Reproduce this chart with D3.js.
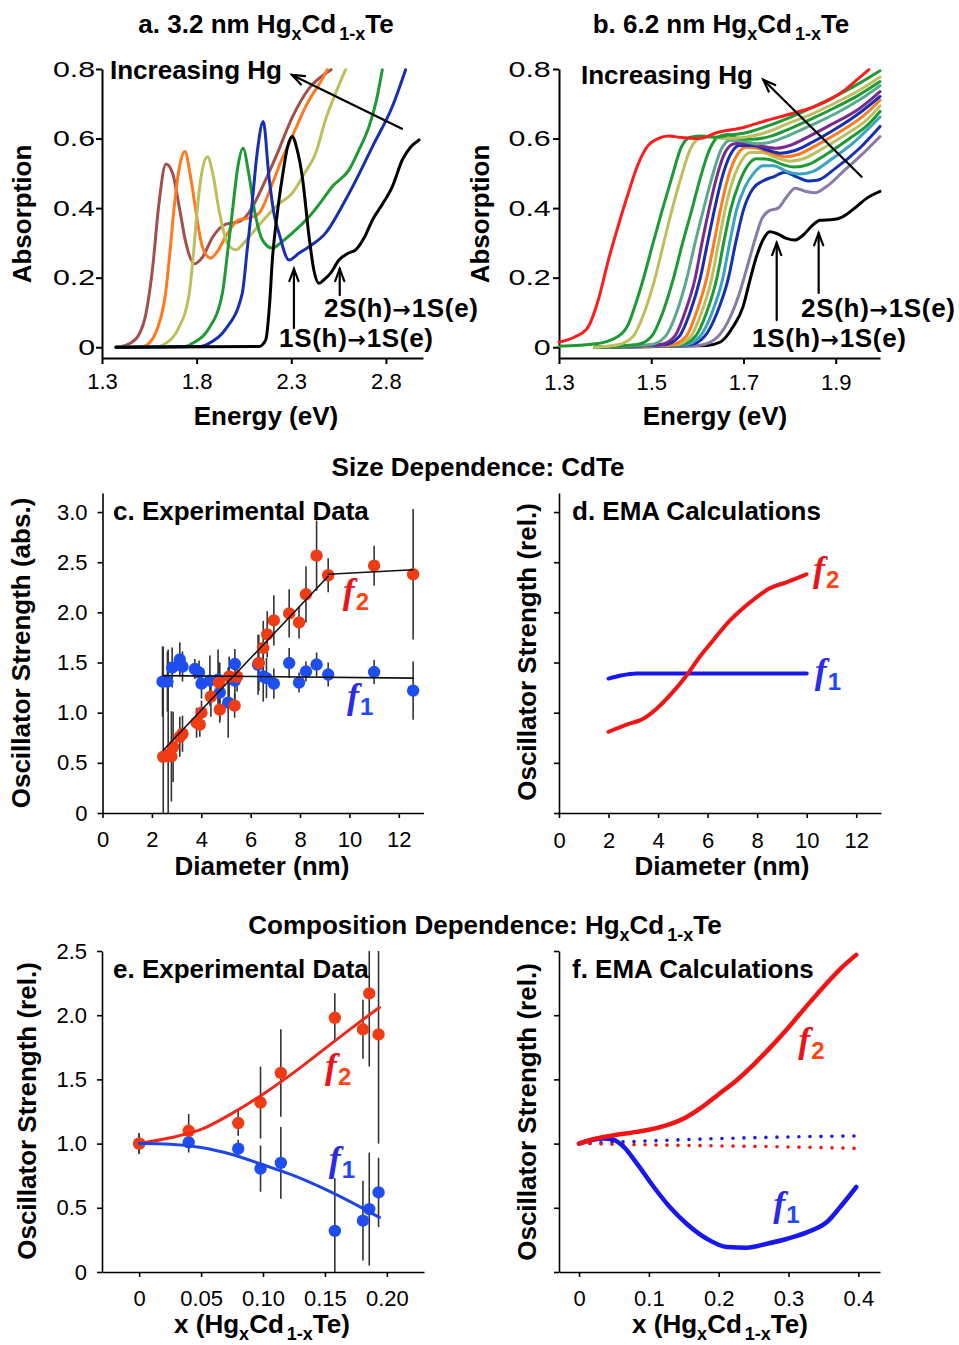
<!DOCTYPE html>
<html>
<head>
<meta charset="utf-8">
<script src="https://cdn.jsdelivr.net/npm/d3@7"></script>
<style>
  body { margin: 0; background: #fff; }
</style>
</head>
<body>
<svg id="fig" width="959" height="1345"></svg>
<script>
// ---------- a. 3.2 nm HgxCd1-xTe : absorption spectra [energy eV, absorbance], most Hg first
const a1 = [[1.374,0],[1.444,0.01],[1.497,0.038],[1.532,0.096],[1.568,0.231],[1.599,0.404],[1.638,0.527],[1.673,0.5],[1.708,0.404],[1.744,0.298],[1.788,0.24],[1.832,0.26],[1.885,0.317],[1.955,0.354],[2.025,0.361],[2.096,0.404],[2.131,0.442],[2.219,0.548],[2.307,0.663],[2.395,0.745],[2.483,0.788],[2.51,0.798]];
const a2 = [[1.374,0],[1.515,0.002],[1.548,0.011],[1.59,0.05],[1.636,0.155],[1.66,0.28],[1.68,0.395],[1.71,0.52],[1.738,0.563],[1.765,0.5],[1.795,0.395],[1.83,0.289],[1.874,0.256],[1.915,0.28],[1.953,0.318],[2.023,0.366],[2.08,0.372],[2.129,0.385],[2.2,0.47],[2.25,0.54],[2.305,0.606],[2.376,0.692],[2.481,0.788],[2.49,0.798]];
const a3 = [[1.374,0],[1.6,0.002],[1.636,0.011],[1.7,0.05],[1.761,0.155],[1.785,0.28],[1.803,0.395],[1.83,0.51],[1.857,0.548],[1.885,0.5],[1.918,0.395],[1.962,0.299],[2.006,0.28],[2.05,0.3],[2.094,0.328],[2.16,0.37],[2.23,0.41],[2.305,0.443],[2.37,0.5],[2.429,0.558],[2.481,0.654],[2.534,0.73],[2.587,0.798]];
const a4 = [[1.374,0],[1.74,0.002],[1.777,0.011],[1.86,0.05],[1.936,0.155],[1.965,0.28],[1.99,0.395],[2.018,0.52],[2.045,0.572],[2.075,0.5],[2.105,0.395],[2.148,0.308],[2.2,0.285],[2.25,0.303],[2.305,0.328],[2.394,0.375],[2.46,0.42],[2.517,0.462],[2.605,0.51],[2.66,0.57],[2.711,0.635],[2.75,0.71],[2.781,0.798]];
const a5 = [[1.374,0],[1.82,0.002],[1.865,0.011],[1.95,0.05],[2.041,0.155],[2.067,0.28],[2.09,0.395],[2.12,0.56],[2.152,0.649],[2.182,0.491],[2.21,0.38],[2.235,0.328],[2.288,0.251],[2.34,0.27],[2.394,0.289],[2.481,0.328],[2.587,0.424],[2.66,0.5],[2.729,0.577],[2.834,0.692],[2.904,0.798]];
const a6 = [[1.374,0],[2.13,0.002],[2.165,0.021],[2.185,0.12],[2.2,0.251],[2.225,0.38],[2.253,0.49],[2.28,0.575],[2.305,0.606],[2.33,0.57],[2.358,0.491],[2.394,0.318],[2.42,0.22],[2.446,0.184],[2.475,0.195],[2.508,0.213],[2.552,0.251],[2.6,0.27],[2.64,0.28],[2.69,0.32],[2.729,0.366],[2.78,0.41],[2.834,0.462],[2.887,0.539],[2.93,0.575],[2.975,0.596]];
const aSpectra = [a1, a2, a3, a4, a5, a6];
const aTicksX = [1.3, 1.8, 2.3, 2.8];
const absTicks = [0, 0.2, 0.4, 0.6, 0.8];

// ---------- b. 6.2 nm HgxCd1-xTe, most Hg first
const b1 = [[1.3,0.015],[1.335,0.03],[1.363,0.058],[1.385,0.135],[1.407,0.25],[1.428,0.347],[1.45,0.442],[1.472,0.528],[1.494,0.581],[1.515,0.6],[1.537,0.607],[1.566,0.603],[1.602,0.6],[1.645,0.618],[1.7,0.632],[1.75,0.652],[1.8,0.67],[1.85,0.69],[1.89,0.714],[1.92,0.74],[1.945,0.768],[1.972,0.798]];
const b2 = [[1.3,0.003],[1.38,0.01],[1.42,0.025],[1.45,0.065],[1.465,0.12],[1.483,0.197],[1.504,0.3],[1.524,0.395],[1.545,0.49],[1.565,0.575],[1.585,0.604],[1.61,0.607],[1.64,0.604],[1.67,0.61],[1.7,0.615],[1.75,0.635],[1.8,0.66],[1.85,0.69],[1.9,0.722],[1.95,0.758],[1.996,0.795]];
const b3 = [[1.377,0],[1.43,0.008],[1.46,0.03],[1.485,0.1],[1.508,0.197],[1.527,0.3],[1.545,0.395],[1.565,0.49],[1.585,0.57],[1.605,0.6],[1.63,0.605],[1.66,0.6],[1.7,0.603],[1.75,0.618],[1.8,0.645],[1.85,0.672],[1.9,0.703],[1.95,0.738],[1.996,0.777]];
const b4 = [[1.377,0],[1.47,0.008],[1.5,0.03],[1.525,0.1],[1.548,0.197],[1.568,0.3],[1.588,0.395],[1.607,0.49],[1.627,0.57],[1.645,0.605],[1.665,0.612],[1.69,0.6],[1.72,0.598],[1.76,0.607],[1.8,0.628],[1.85,0.658],[1.9,0.69],[1.95,0.725],[1.996,0.764]];
const b5 = [[1.377,0],[1.5,0.008],[1.53,0.03],[1.555,0.1],[1.577,0.197],[1.595,0.3],[1.613,0.395],[1.632,0.49],[1.652,0.57],[1.672,0.595],[1.7,0.592],[1.73,0.585],[1.76,0.59],[1.8,0.61],[1.85,0.64],[1.9,0.672],[1.95,0.71],[1.996,0.752]];
const b6 = [[1.377,0],[1.52,0.008],[1.55,0.03],[1.573,0.1],[1.595,0.197],[1.61,0.3],[1.625,0.395],[1.642,0.49],[1.66,0.56],[1.68,0.585],[1.71,0.587],[1.74,0.578],[1.77,0.572],[1.8,0.58],[1.84,0.605],[1.89,0.64],[1.95,0.685],[1.996,0.735]];
const b7 = [[1.377,0],[1.53,0.008],[1.56,0.03],[1.584,0.1],[1.606,0.197],[1.622,0.3],[1.637,0.395],[1.654,0.49],[1.672,0.555],[1.692,0.58],[1.72,0.58],[1.75,0.568],[1.78,0.558],[1.81,0.565],[1.85,0.59],[1.9,0.628],[1.95,0.672],[1.996,0.721]];
const b8 = [[1.377,0],[1.545,0.008],[1.575,0.03],[1.598,0.1],[1.62,0.197],[1.636,0.3],[1.65,0.395],[1.667,0.49],[1.685,0.55],[1.705,0.575],[1.73,0.572],[1.76,0.558],[1.79,0.548],[1.82,0.555],[1.86,0.582],[1.91,0.62],[1.96,0.665],[1.996,0.71]];
const b9 = [[1.377,0],[1.555,0.008],[1.585,0.03],[1.609,0.1],[1.631,0.197],[1.646,0.3],[1.66,0.395],[1.677,0.48],[1.695,0.535],[1.715,0.56],[1.74,0.56],[1.77,0.545],[1.8,0.535],[1.83,0.542],[1.87,0.57],[1.92,0.61],[1.97,0.657],[1.996,0.694]];
const b10 = [[1.377,0],[1.565,0.008],[1.595,0.03],[1.62,0.1],[1.642,0.197],[1.657,0.3],[1.672,0.395],[1.69,0.47],[1.708,0.52],[1.728,0.542],[1.755,0.54],[1.785,0.525],[1.81,0.518],[1.84,0.525],[1.88,0.555],[1.93,0.6],[1.97,0.64],[1.996,0.678]];
const b11 = [[1.377,0],[1.575,0.008],[1.605,0.03],[1.632,0.1],[1.655,0.197],[1.67,0.3],[1.685,0.395],[1.703,0.46],[1.722,0.5],[1.742,0.522],[1.765,0.522],[1.795,0.505],[1.82,0.498],[1.85,0.505],[1.89,0.54],[1.94,0.59],[1.996,0.662]];
const b12 = [[1.377,0],[1.585,0.008],[1.615,0.03],[1.643,0.1],[1.667,0.197],[1.683,0.3],[1.7,0.395],[1.72,0.455],[1.742,0.478],[1.765,0.49],[1.79,0.503],[1.815,0.49],[1.84,0.478],[1.86,0.48],[1.9,0.515],[1.95,0.57],[1.996,0.635]];
const b13 = [[1.377,0],[1.6,0.005],[1.635,0.02],[1.665,0.07],[1.69,0.15],[1.71,0.24],[1.725,0.31],[1.74,0.37],[1.755,0.392],[1.775,0.4],[1.795,0.435],[1.812,0.457],[1.835,0.448],[1.855,0.444],[1.88,0.462],[1.92,0.51],[1.96,0.558],[1.996,0.606]];
const b14 = [[1.377,0],[1.62,0.005],[1.65,0.015],[1.677,0.058],[1.699,0.116],[1.714,0.193],[1.728,0.26],[1.742,0.308],[1.757,0.332],[1.772,0.327],[1.793,0.313],[1.811,0.308],[1.829,0.322],[1.85,0.351],[1.866,0.365],[1.894,0.367],[1.915,0.375],[1.945,0.404],[1.967,0.428],[1.996,0.448]];
const bSpectra = [b1, b2, b3, b4, b5, b6, b7, b8, b9, b10, b11, b12, b13, b14];
const bTicksX = [1.3, 1.5, 1.7, 1.9];

// ---------- c. size dependence, experimental (diameter nm, oscillator strength)
const cDiamF2 = [2.46,2.66,2.79,2.86,3.13,3.24,3.81,3.94,4.01,4.39,4.72,4.75,5.13,5.35,5.45,6.33,6.51,6.67,6.94,7.56,7.96,8.24,8.67,9.14,11.0,12.58];
const cF2 = [0.56,0.58,0.565,0.66,0.76,0.79,0.90,0.88,1.0,1.16,1.30,1.03,1.36,1.07,1.36,1.495,1.645,1.78,1.92,1.99,1.90,2.18,2.565,2.37,2.465,2.38];
const cF2Err = [1.1,1.05,0.45,0.35,0.2,0.18,0.15,0.12,0.12,0.2,0.2,0.1,0.2,0.12,0.15,0.28,0.27,0.23,0.25,0.24,0.16,0.28,0.35,0.17,0.2,0.65];
const cDiamF1 = [2.43,2.63,2.82,3.13,3.24,3.74,3.91,4.01,4.35,4.68,4.75,5.09,5.36,5.36,6.30,6.51,6.64,6.94,7.56,7.96,8.24,8.67,9.14,11.0,12.58];
const cF1 = [1.31,1.31,1.45,1.53,1.46,1.435,1.40,1.29,1.32,1.33,1.20,1.10,1.485,1.32,1.48,1.36,1.345,1.29,1.495,1.30,1.41,1.48,1.38,1.405,1.22];
const cF1Err = [0.35,0.3,0.2,0.17,0.15,0.1,0.12,0.15,0.25,0.3,0.3,0.35,0.15,0.2,0.3,0.25,0.2,0.15,0.15,0.1,0.1,0.12,0.12,0.12,0.29];
const cFitF1 = [[2.46,1.369],[12.58,1.345]];
const cFitF2 = [[2.46,0.625],[9.14,2.36]];
const cFitF2Flat = [[9.14,2.38],[12.58,2.425]];
const diamTicks = [0, 2, 4, 6, 8, 10, 12];
const cTicksY = [0, 0.5, 1.0, 1.5, 2.0, 2.5, 3.0];

// ---------- d. size dependence, EMA
const dDiamF2 = [2.0,2.73,3.47,3.94,4.54,5.15,5.69,6.22,6.83,7.43,7.97,8.51,9.18,9.99];
const dF2 = [0.81,0.88,0.95,1.04,1.19,1.37,1.56,1.72,1.90,2.04,2.15,2.24,2.30,2.38];
const dDiamF1 = [2.0,2.5,3.13,5.0,8.0,10.0];
const dF1 = [1.34,1.37,1.39,1.39,1.39,1.39];

// ---------- e. composition dependence, experimental (x, relative strength)
const eX = [0, 0.04, 0.08, 0.098, 0.1144, 0.158, 0.1807, 0.1858, 0.1933];
const eF2 = [1.0, 1.10, 1.16, 1.32, 1.55, 1.98, 1.89, 2.17, 1.85];
const eF2Err = [0.08, 0.13, 0.1, 0.28, 0.34, 0.19, 0.23, 0.57, 0.85];
const eF1 = [1.0, 1.01, 0.96, 0.805, 0.85, 0.32, 0.40, 0.49, 0.62];
const eF1Err = [0.08, 0.08, 0.07, 0.18, 0.28, 0.41, 0.31, 0.44, 0.27];
const eFitX = [0, 0.025, 0.05, 0.075, 0.1, 0.125, 0.15, 0.175, 0.194];
const eFitF2 = [1.0, 1.045, 1.11, 1.235, 1.385, 1.555, 1.74, 1.925, 2.06];
const eFitF1 = [1.0, 0.995, 0.97, 0.915, 0.835, 0.75, 0.645, 0.525, 0.425];
const eTicksX = [0, 0.05, 0.10, 0.15, 0.20];
const relTicks = [0, 0.5, 1.0, 1.5, 2.0, 2.5];

// ---------- f. composition dependence, EMA
const fX2 = [0,0.025,0.05,0.075,0.1,0.125,0.15,0.175,0.2,0.225,0.25,0.275,0.3,0.325,0.35,0.375,0.397];
const fF2 = [1.0,1.04,1.065,1.085,1.108,1.142,1.195,1.28,1.385,1.49,1.615,1.755,1.905,2.065,2.22,2.365,2.47];
const fX1 = [0,0.016,0.035,0.049,0.064,0.083,0.107,0.13,0.154,0.183,0.212,0.24,0.269,0.298,0.327,0.355,0.374,0.397];
const fF1 = [1.0,1.026,1.039,1.031,0.974,0.844,0.662,0.506,0.376,0.259,0.194,0.189,0.22,0.259,0.311,0.389,0.506,0.662];
const fDotX = [0, 0.1, 0.2, 0.3, 0.4];
const fDotF1 = [1.0, 1.021, 1.039, 1.052, 1.06];
const fDotF2 = [1.0, 0.99, 0.982, 0.974, 0.962];
const fTicksX = [0, 0.1, 0.2, 0.3, 0.4];

// ---------- drawing
const SANS = '"Liberation Sans", Arial, Helvetica, sans-serif';
const SERIF = '"Liberation Serif", "Times New Roman", serif';
const ARROWFONT = '"DejaVu Sans", sans-serif';
const svg = d3.select("#fig");
svg.append("rect").attr("width", 959).attr("height", 1345).attr("fill", "#fff");

const zeroFmt = (f) => (d) => (d === 0 ? "0" : d3.format(f)(d));
const zip = (xs, ys) => xs.map((v, i) => [v, ys[i]]);

function axes(x, y, o) {
  const g = svg.append("g");
  const xa = g.append("g")
    .attr("transform", `translate(0,${y.range()[0]})`)
    .call(d3.axisBottom(x).tickValues(o.xTicks).tickFormat(o.xFmt)
      .tickSize(o.tick).tickSizeOuter(0).tickPadding(o.xPad));
  const ya = g.append("g")
    .attr("transform", `translate(${x.range()[0]},0)`)
    .call(d3.axisLeft(y).tickValues(o.yTicks).tickFormat(o.yFmt || (() => ""))
      .tickSize(o.tick).tickSizeOuter(0).tickPadding(o.yPad));
  [xa, ya].forEach((a) => {
    a.select(".domain").attr("stroke", "#000").attr("stroke-width", o.sw);
    a.selectAll(".tick line").attr("stroke", "#000").attr("stroke-width", o.sw);
    a.selectAll("text").attr("font-family", SANS).attr("font-size", 22).attr("fill", "#000");
  });
  return { xa, ya };
}

// bold text with optional subscript parts: [[string, isSub, dx], ...]
function rich(x, y, parts, anchor, size, subSize) {
  const t = svg.append("text").attr("x", x).attr("y", y)
    .attr("text-anchor", anchor || "start")
    .attr("font-family", SANS).attr("font-weight", "bold")
    .attr("font-size", size || 26).attr("fill", "#000");
  let down = false;
  parts.forEach(([s, sub, dx]) => {
    const sp = t.append("tspan").text(s);
    if (sub) {
      sp.attr("font-size", subSize || 18).attr("dy", down ? 0 : 7);
      down = true;
    } else if (down) {
      sp.attr("dy", -7);
      down = false;
    }
    if (dx) sp.attr("dx", dx);
  });
  return t;
}

// transition label "nS(h)→1S(e)"
function transition(x, y, from, to) {
  const t = svg.append("text").attr("x", x).attr("y", y)
    .attr("font-family", SANS).attr("font-weight", "bold").attr("font-size", 26)
    .attr("letter-spacing", 0.7);
  t.append("tspan").text(from);
  t.append("tspan").text("\u2192").attr("font-family", ARROWFONT).attr("font-size", 22);
  t.append("tspan").text(to);
}

function vlabel(x, y, s) {
  svg.append("text").attr("transform", `translate(${x},${y}) rotate(-90)`)
    .attr("text-anchor", "middle").attr("font-family", SANS)
    .attr("font-weight", "bold").attr("font-size", 26).text(s);
}

function arrow(x1, y1, x2, y2, w) {
  const g = svg.append("g").attr("stroke", "#000").attr("stroke-width", w || 2.2)
    .attr("fill", "none").attr("stroke-linecap", "round");
  g.append("line").attr("x1", x1).attr("y1", y1).attr("x2", x2).attr("y2", y2);
  const ang = Math.atan2(y1 - y2, x1 - x2), L = 13, h = 0.36;
  g.append("path").attr("d",
    `M${x2 + L * Math.cos(ang + h)},${y2 + L * Math.sin(ang + h)}L${x2},${y2}L${x2 + L * Math.cos(ang - h)},${y2 + L * Math.sin(ang - h)}`);
}

function fLabel(x, y, sub, fCol, sCol) {
  const t = svg.append("text").attr("x", x).attr("y", y);
  t.append("tspan").text("f").attr("font-family", SERIF).attr("font-style", "italic")
    .attr("font-weight", "bold").attr("font-size", 36).attr("fill", fCol);
  t.append("tspan").text(sub).attr("dx", 1).attr("dy", 7).attr("font-family", SANS)
    .attr("font-weight", "bold").attr("font-size", 24).attr("fill", sCol);
}

function errBars(x, y, xs, ys, es, lo, hi) {
  svg.append("g").attr("stroke", "#333").attr("stroke-width", 1.6)
    .selectAll("line").data(xs).join("line")
    .attr("x1", (d) => x(d)).attr("x2", (d) => x(d))
    .attr("y1", (d, i) => y(Math.min(hi, ys[i] + es[i])))
    .attr("y2", (d, i) => y(Math.max(lo, ys[i] - es[i])));
}

function dots(x, y, xs, ys, col) {
  svg.append("g").attr("fill", col).selectAll("circle").data(xs).join("circle")
    .attr("cx", (d) => x(d)).attr("cy", (d, i) => y(ys[i])).attr("r", 6.2);
}

function curve(x, y, pts, col, w, smooth, dash) {
  const line = d3.line().x((d) => x(d[0])).y((d) => y(d[1]))
    .curve(smooth ? d3.curveMonotoneX : d3.curveLinear);
  const p = svg.append("path").attr("d", line(pts)).attr("fill", "none")
    .attr("stroke", col).attr("stroke-width", w)
    .attr("stroke-linejoin", "round").attr("stroke-linecap", "round");
  if (dash) p.attr("stroke-dasharray", dash);
  return p;
}

const RED = "#f03c14", BLUE = "#1f4ef0";

// ---- panel a
{
  const x = d3.scaleLinear().domain([1.3, 2.996]).range([102, 423]);
  const y = d3.scaleLinear().domain([-0.031, 0.8]).range([358, 69]);
  const { ya } = axes(x, y, { xTicks: aTicksX, xFmt: d3.format(".1f"), yTicks: absTicks,
    yFmt: zeroFmt(".1f"), tick: 6, xPad: 9, yPad: 2, sw: 2 });
  ya.selectAll("text").attr("x", -5).attr("transform", "scale(1.38,1)");
  const cols = ["#a3504c", "#ff7a1e", "#bdbf5c", "#1e9a34", "#1630b0", "#000"];
  aSpectra.forEach((s, i) => curve(x, y, s, cols[i], 3, true));
  rich(266, 33, [["a. 3.2 nm Hg"], ["x", true], ["Cd"], ["1-x", true, 3], ["Te"]], "middle");
  vlabel(31, 214, "Absorption");
  rich(266, 425, [["Energy (eV)"]], "middle");
  rich(110, 79, [["Increasing Hg"]]);
  arrow(x(2.885), y(0.628), x(2.304), y(0.783));
  arrow(x(2.314), y(0.055), x(2.314), y(0.225));
  arrow(x(2.556), y(0.15), x(2.556), y(0.225));
  transition(324, 317, "2S(h)", "1S(e)");
  transition(279, 347, "1S(h)", "1S(e)");
}

// ---- panel b
{
  const x = d3.scaleLinear().domain([1.3, 1.996]).range([559, 880]);
  const y = d3.scaleLinear().domain([-0.031, 0.8]).range([358, 69]);
  const { ya } = axes(x, y, { xTicks: bTicksX, xFmt: d3.format(".1f"), yTicks: absTicks,
    yFmt: zeroFmt(".1f"), tick: 6, xPad: 10, yPad: 2, sw: 2 });
  ya.selectAll("text").attr("x", -6).attr("transform", "scale(1.38,1)");
  const cols = ["#ff1c1c", "#1e9a34", "#bdbf5c", "#1e9a34", "#5aa98c", "#7a2a8e", "#1630b0",
    "#ff7a1e", "#bdbf5c", "#1e9a34", "#3aa3c2", "#1630b0", "#8a7aaa", "#000"];
  for (let i = bSpectra.length - 1; i >= 0; i--) curve(x, y, bSpectra[i], cols[i], 3, true);
  rich(721, 33, [["b. 6.2 nm Hg"], ["x", true], ["Cd"], ["1-x", true, 3], ["Te"]], "middle");
  vlabel(489, 214, "Absorption");
  rich(715, 425, [["Energy (eV)"]], "middle");
  rich(581, 84, [["Increasing Hg"]]);
  arrow(x(1.956), y(0.49), x(1.743), y(0.769));
  arrow(x(1.772), y(0.078), x(1.772), y(0.3));
  arrow(x(1.863), y(0.156), x(1.863), y(0.328));
  transition(801, 317, "2S(h)", "1S(e)");
  transition(752, 347, "1S(h)", "1S(e)");
}

rich(478, 476, [["Size Dependence: CdTe"]], "middle");
rich(485, 934, [["Composition Dependence: Hg"], ["x", true], ["Cd"], ["1-x", true, 3], ["Te"]], "middle");

// ---- panel c
{
  const x = d3.scaleLinear().domain([0, 13]).range([102.5, 423.5]);
  const y = d3.scaleLinear().domain([0, 3.19]).range([813, 493]);
  axes(x, y, { xTicks: diamTicks, xFmt: d3.format("d"), yTicks: cTicksY,
    yFmt: zeroFmt(".1f"), tick: 5, xPad: 13, yPad: 10, sw: 1.6 });
  errBars(x, y, cDiamF1, cF1, cF1Err, 0, 3.19);
  errBars(x, y, cDiamF2, cF2, cF2Err, 0, 3.19);
  dots(x, y, cDiamF1, cF1, BLUE);
  dots(x, y, cDiamF2, cF2, RED);
  [cFitF1, cFitF2, cFitF2Flat].forEach((p) => curve(x, y, p, "#111", 1.6, false));
  rich(113, 520, [["c. Experimental Data"]]);
  vlabel(30, 653, "Oscillator Strength (abs.)");
  rich(262, 875, [["Diameter (nm)"]], "middle");
  fLabel(x(9.73), y(2.09), "2", "#e8141c", "#ff4414");
  fLabel(x(9.9), y(1.05), "1", "#2a2ae8", "#2048ff");
}

// ---- panel d
{
  const x = d3.scaleLinear().domain([0, 13]).range([559, 881]);
  const y = d3.scaleLinear().domain([0, 3.19]).range([813, 493]);
  axes(x, y, { xTicks: diamTicks, xFmt: d3.format("d"), yTicks: cTicksY,
    tick: 5, xPad: 14, yPad: 10, sw: 1.6 });
  curve(x, y, zip(dDiamF1, dF1), "#1818ee", 4, true);
  curve(x, y, zip(dDiamF2, dF2), "#f01414", 4, true);
  rich(572, 520, [["d. EMA Calculations"]]);
  vlabel(536, 652, "Oscillator Strength (rel.)");
  rich(722, 875, [["Diameter (nm)"]], "middle");
  fLabel(x(10.25), y(2.31), "2", "#e8141c", "#ff4414");
  fLabel(x(10.33), y(1.3), "1", "#2a2ae8", "#2048ff");
}

// ---- panel e
{
  const x = d3.scaleLinear().domain([-0.03, 0.23]).range([102, 424]);
  const y = d3.scaleLinear().domain([0, 2.5]).range([1272, 951]);
  axes(x, y, { xTicks: eTicksX, xFmt: zeroFmt(".2f"), yTicks: relTicks,
    yFmt: zeroFmt(".1f"), tick: 5, xPad: 13, yPad: 10, sw: 1.6 });
  errBars(x, y, eX, eF1, eF1Err, 0, 2.5);
  errBars(x, y, eX, eF2, eF2Err, 0, 2.5);
  dots(x, y, eX, eF1, BLUE);
  dots(x, y, eX, eF2, RED);
  curve(x, y, zip(eFitX, eFitF2), "#f0281a", 3, true);
  curve(x, y, zip(eFitX, eFitF1), "#1e46e6", 3, true);
  rich(113, 978, [["e. Experimental Data"]]);
  vlabel(36, 1111, "Oscillator Strength (rel.)");
  rich(262, 1333, [["x (Hg"], ["x", true], ["Cd"], ["1-x", true, 3], ["Te)"]], "middle");
  fLabel(x(0.150), y(1.51), "2", "#e8141c", "#ff4414");
  fLabel(x(0.153), y(0.79), "1", "#2a2ae8", "#2048ff");
}

// ---- panel f
{
  const x = d3.scaleLinear().domain([-0.0287, 0.431]).range([559, 880]);
  const y = d3.scaleLinear().domain([0, 2.5]).range([1272, 951]);
  axes(x, y, { xTicks: fTicksX, xFmt: zeroFmt(".1f"), yTicks: relTicks,
    tick: 5, xPad: 13, yPad: 10, sw: 1.6 });
  curve(x, y, zip(fDotX, fDotF1), "#1818ee", 3.6, true, "0,11");
  curve(x, y, zip(fDotX, fDotF2), "#f01414", 3.6, true, "0,11");
  curve(x, y, zip(fX1, fF1), "#1818ee", 4.5, true);
  curve(x, y, zip(fX2, fF2), "#f01414", 4.5, true);
  rich(572, 978, [["f. EMA Calculations"]]);
  vlabel(536, 1112, "Oscillator Strength (rel.)");
  rich(720, 1333, [["x (Hg"], ["x", true], ["Cd"], ["1-x", true, 3], ["Te)"]], "middle");
  fLabel(x(0.314), y(1.71), "2", "#e8141c", "#ff4414");
  fLabel(x(0.278), y(0.44), "1", "#2a2ae8", "#2048ff");
}
</script>
</body>
</html>
